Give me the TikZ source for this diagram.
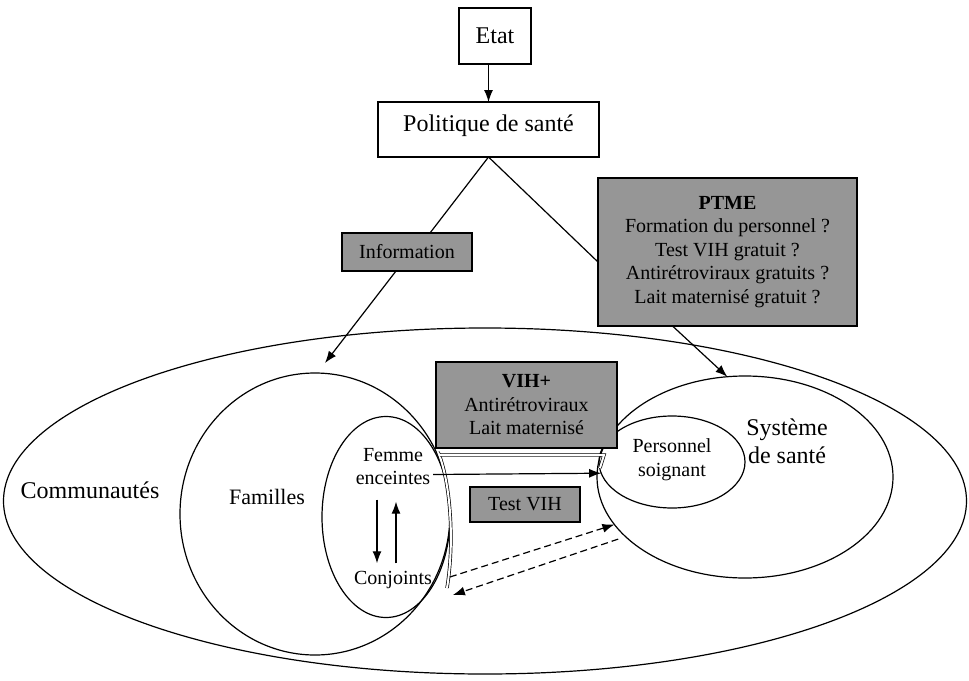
\documentclass[tikz,border=0pt]{standalone}
\usepackage{fontspec}
\setmainfont{Liberation Serif}
\definecolor{boxgray}{RGB}{150,150,150}
\usepackage{tikz}
\usetikzlibrary{arrows.meta}
\usetikzlibrary{shapes.geometric}
\tikzstyle{base}=[x=1pt, y=-1pt, inner sep=0pt, outer sep=0pt, line width=1.2pt, >={Latex[length=12pt,width=9pt]}]
\tikzstyle{whitebox}=[draw, fill=white, align=center, font=\fontsize{24}{27}\selectfont]
\tikzstyle{graybox}=[draw, fill=boxgray, line width=1.8pt, align=center, font=\fontsize{20}{23.5}\selectfont]
\tikzstyle{zone}=[draw, ellipse]
\tikzstyle{bigtext}=[align=center, font=\fontsize{24}{28}\selectfont]
\tikzstyle{smalltext}=[align=center, font=\fontsize{20}{23}\selectfont]
\tikzstyle{dashline}=[dash pattern=on 7pt off 4pt]

\begin{document}
\begin{tikzpicture}[base]
    \useasboundingbox (0,0) rectangle (969,680);
        \node [zone, minimum width=963, minimum height=346] (comm) at (485,501) {};
        \node [zone, minimum width=270, minimum height=282] (fam) at (315,514) {};
        \node [zone, minimum width=128, minimum height=201] (femme) at (386,517) {};
        \node [zone, minimum width=296, minimum height=202] (sys) at (745,477) {};
        \node [zone, minimum width=146, minimum height=92] (pers) at (672,462) {};
        \draw [double, double distance=2pt, line width=0.7pt] (438,452) .. controls (450,480) and (455,540) .. (447,588);
        \draw [double, double distance=2pt, line width=0.7pt] (440,455) -- (604,455) -- (600,468);
        \node [whitebox, minimum width=72, minimum height=56] (etat) at (495,36) {Etat};
        \node [whitebox, minimum width=221, minimum height=55, text depth=12pt] (pol) at (488.5,129.5) {Politique de santé};
        \node [graybox, minimum width=130, minimum height=38] (info) at (407,252) {Information};
        \node [graybox, minimum width=259, minimum height=148] (ptme) at (727.5,252) {\textbf{PTME}\\Formation du personnel ?\\Test VIH gratuit ?\\Antirétroviraux gratuits ?\\Lait maternisé gratuit ?};
        \node [graybox, minimum width=181, minimum height=86] (vih) at (526.5,405) {\textbf{VIH+}\\Antirétroviraux\\Lait maternisé};
        \node [graybox, minimum width=110, minimum height=35] (test) at (525,504.5) {Test VIH};
        \node [bigtext] (tcomm) at (90,490) {Communautés};
        \node [bigtext, font=\fontsize{22}{26}\selectfont] (tfam) at (267,497) {Familles};
        \node [smalltext] (tfemme) at (393,466.5) {Femme\\enceintes};
        \node [smalltext] (tconj) at (393,580) {Conjoints};
        \node [smalltext, font=\fontsize{20}{24}\selectfont] (tpers) at (672,460) {Personnel\\soignant};
        \node [bigtext] (tsys) at (787,441) {Système\\de santé};
        \coordinate (famtop) at (325,363);
        \draw [->] (etat.south -| pol.north) -- (pol.north);
        \draw (pol.south) -- ([xshift=23pt]info.north);
        \draw (pol.south) -- ([yshift=-10pt]ptme.west);
        \draw [->] ([xshift=-11pt]info.south) -- (famtop);
        \draw [->] ([xshift=-55pt]ptme.south) -- (sys.100);
        \draw [->] ([xshift=3pt, yshift=-8pt]tfemme.east) -- (pers.189);
        \draw [->] ([xshift=-16pt, yshift=-15pt]tfemme.south) -- ([xshift=-16pt, yshift=8pt]tconj.north);
        \draw [->] ([xshift=3pt, yshift=8pt]tconj.north) -- ([xshift=3pt, yshift=-17pt]tfemme.south);
        \draw [->, dashline] ([xshift=18pt, yshift=3pt]tconj.east) -- (sys.200);
        \draw [->, dashline] ([xshift=-10pt]sys.208) -- ([xshift=21pt, yshift=-15pt]tconj.east);
    \end{tikzpicture}
\end{document}
